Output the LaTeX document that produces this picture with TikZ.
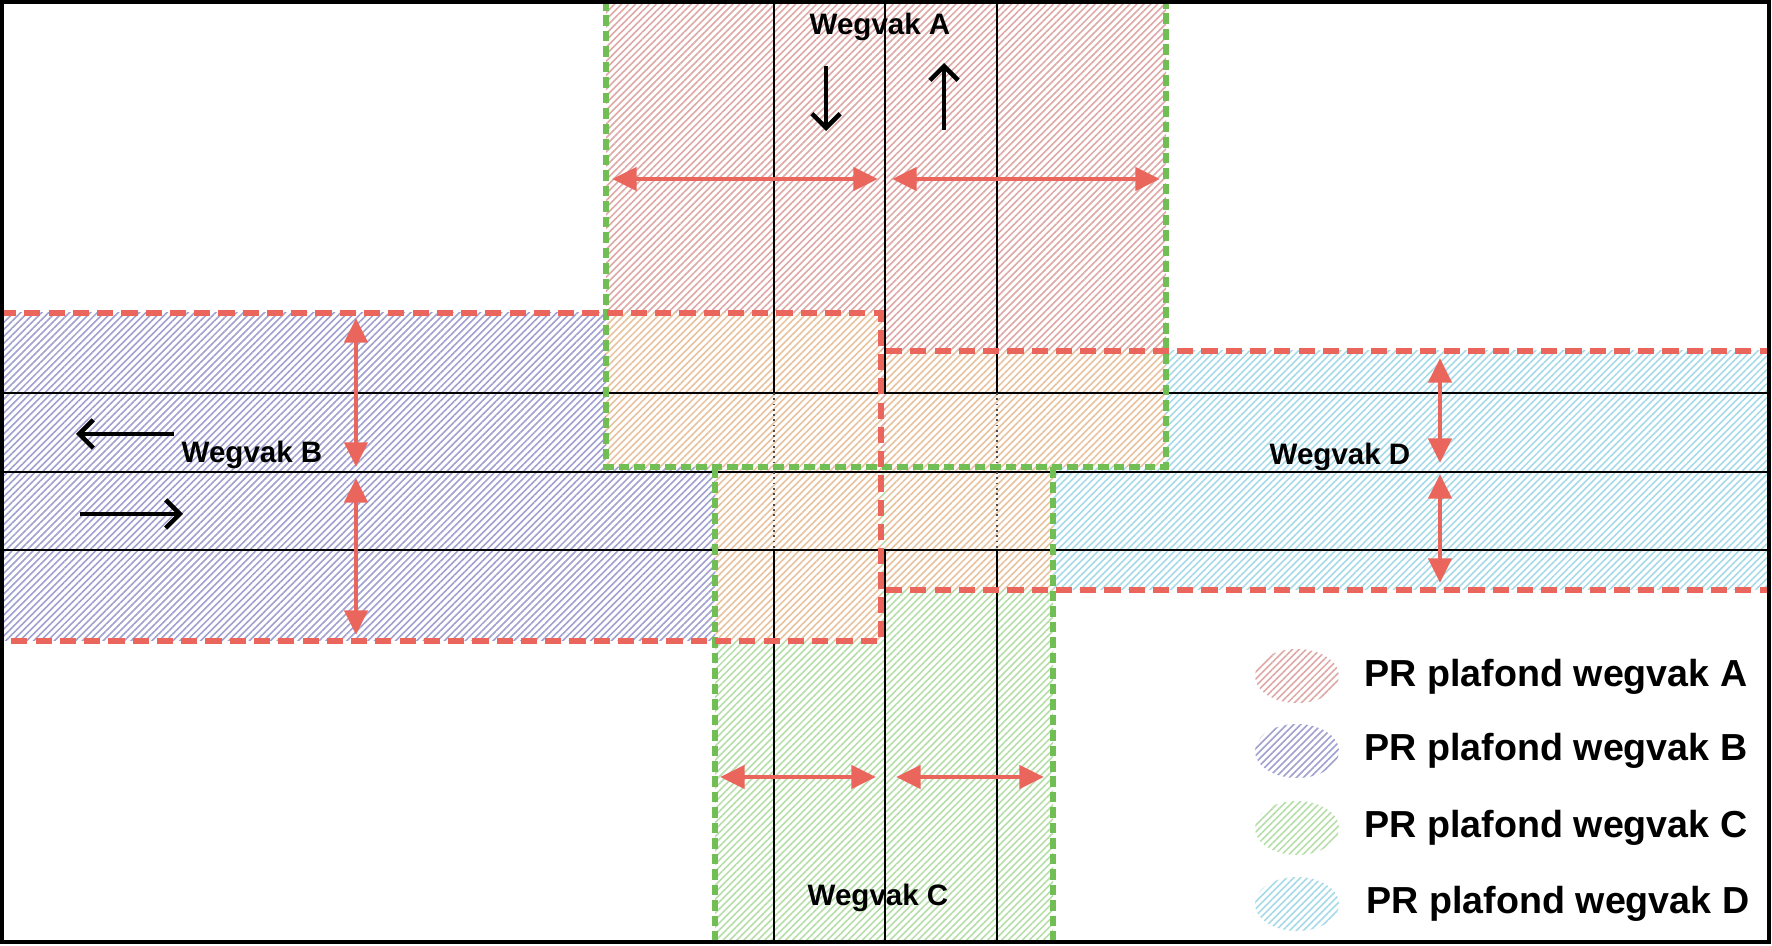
\documentclass[tikz,border=0pt]{standalone}
\usepackage{fontspec}
\setmainfont{Liberation Sans}
\usetikzlibrary{patterns.meta,arrows.meta}
\definecolor{dimred}{RGB}{234,102,92}
\definecolor{dashgreen}{RGB}{112,190,84}
\definecolor{hatchA}{RGB}{222,168,166}
\definecolor{hatchB}{RGB}{160,160,208}
\definecolor{hatchC}{RGB}{182,222,168}
\definecolor{hatchD}{RGB}{166,218,232}
\definecolor{hatchX}{RGB}{232,194,158}
\begin{document}
\begin{tikzpicture}[x=0.01cm,y=-0.01cm,
  hatch/.style={preaction={fill=white},pattern={Lines[angle=45,distance=1.4pt,line width=0.45pt]},pattern color=#1},
  road/.style={line width=0.6pt,black},
  roaddot/.style={line width=0.5pt,black!70,densely dotted},
  rdash/.style={line width=1.5pt,dimred,dash pattern=on 4.6pt off 2.3pt},
  gdash/.style={line width=1.7pt,dashgreen,dash pattern=on 3pt off 1.4pt},
  dimarrow/.style={line width=1.3pt,dimred,{Triangle[length=7pt,width=6.5pt]}-{Triangle[length=7pt,width=6.5pt]}},
  dirarrow/.style={line width=1.3pt,black,-{Straight Barb[length=4pt,width=8pt]}},
  lbl/.style={font=\fontsize{8.4}{10}\selectfont\bfseries,inner sep=0pt},
  leg/.style={font=\fontsize{10.7}{13}\selectfont\bfseries,inner sep=0pt,anchor=west}]
\useasboundingbox (0,0) rectangle (1772,946);
% hatched regions
\fill[hatch=hatchA] (606,0) rectangle (1166,467);
\fill[hatch=hatchB] (0,313) rectangle (881,641);
\fill[hatch=hatchC] (715,467) rectangle (1053,943);
\fill[hatch=hatchD] (886,351) rectangle (1770,590);
\fill[hatch=hatchX] (606,313) rectangle (881,467);
\fill[hatch=hatchX] (886,351) rectangle (1166,467);
\fill[hatch=hatchX] (715,467) rectangle (881,641);
\fill[hatch=hatchX] (886,467) rectangle (1053,590);
% road lines
\draw[road] (0,393) -- (1770,393);
\draw[road] (0,472) -- (1770,472);
\draw[road] (0,550) -- (1770,550);
\draw[road] (774,0) -- (774,393); \draw[roaddot] (774,393) -- (774,550); \draw[road] (774,550) -- (774,943);
\draw[road] (997,0) -- (997,393); \draw[roaddot] (997,393) -- (997,550); \draw[road] (997,550) -- (997,943);
\draw[road] (885,0) -- (885,393); \draw[road] (885,550) -- (885,943);
% boundaries
\draw[gdash] (606,0) -- (606,467) -- (1166,467) -- (1166,0);
\draw[gdash] (715,467) -- (715,943);
\draw[gdash] (1053,467) -- (1053,943);
\draw[rdash] (0,313) -- (881,313) -- (881,641) -- (0,641);
\draw[rdash] (886,351) -- (1770,351);
\draw[rdash] (886,590) -- (1770,590);
% dimension arrows
\draw[dimarrow] (612,179) -- (878,179);
\draw[dimarrow] (892,179) -- (1160,179);
\draw[dimarrow] (356,318) -- (356,467);
\draw[dimarrow] (356,478) -- (356,635);
\draw[dimarrow] (1440,358) -- (1440,463);
\draw[dimarrow] (1440,474) -- (1440,583);
\draw[dimarrow] (720,777) -- (876,777);
\draw[dimarrow] (896,777) -- (1044,777);
% direction arrows
\draw[dirarrow] (826,66) -- (826,131);
\draw[dirarrow] (944,130) -- (944,63);
\draw[dirarrow] (174,434) -- (76,434);
\draw[dirarrow] (80,514) -- (183,514);
% labels
\node[lbl] (wa) at (880,27) {Wegvak A};
\node[lbl] (wb) at (252,455) {Wegvak B};
\node[lbl] (wc) at (878,898) {Wegvak C};
\node[lbl] (wd) at (1340,457) {Wegvak D};
% legend
\fill[hatch=hatchA] (1297,676) ellipse [x radius=0.42cm,y radius=0.27cm];
\fill[hatch=hatchB] (1297,751) ellipse [x radius=0.42cm,y radius=0.27cm];
\fill[hatch=hatchC] (1297,828) ellipse [x radius=0.42cm,y radius=0.27cm];
\fill[hatch=hatchD] (1297,904) ellipse [x radius=0.42cm,y radius=0.27cm];
\node[leg] (la) at (1364,677) {PR plafond wegvak A};
\node[leg] (lb) at (1364,751) {PR plafond wegvak B};
\node[leg] (lc) at (1364,828) {PR plafond wegvak C};
\node[leg] (ld) at (1366,904) {PR plafond wegvak D};
% frame
\draw[line width=1.3pt] (2,2) rectangle (1769,942);
\end{tikzpicture}
\end{document}
